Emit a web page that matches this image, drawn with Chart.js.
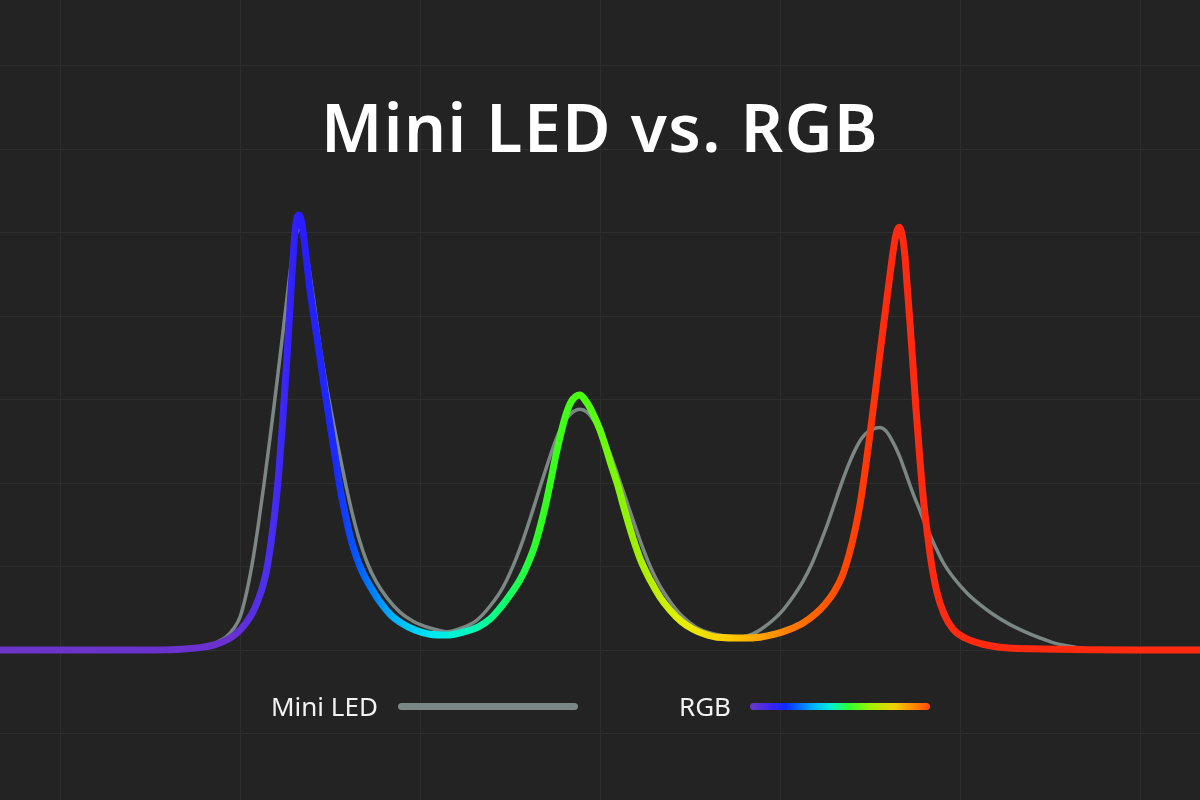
<!DOCTYPE html>
<html lang="en">
<head>
    <meta charset="UTF-8">
    <title>Mini LED vs. RGB</title>
    <script src="https://cdn.jsdelivr.net/npm/chart.js"></script>
    <style>
        body {
            margin: 0;
            background-color: #232323;
        }

        .chart-box {
            position: relative;
            width: 1200px;
            height: 800px;
            overflow: hidden;
        }

        canvas {
            position: absolute;
            left: 0;
            top: 0;
        }

        .chart-title {
            position: absolute;
            left: 0;
            top: 93px;
            width: 1200px;
            text-align: center;
            color: #ffffff;
            font-family: "Noto Sans", sans-serif;
            font-weight: 600;
            font-size: 66px;
            line-height: 66px;
            letter-spacing: 1.5px;
        }

        .legend-label {
            position: absolute;
            top: 693px;
            color: #f2f2f2;
            font-family: "Noto Sans", sans-serif;
            font-size: 26px;
            line-height: 26px;
        }

        .legend-bar {
            position: absolute;
            top: 703px;
            width: 180px;
            height: 7px;
            border-radius: 4px;
        }
    </style>
</head>
<body>
    <div class="chart-box">
        <canvas id="spectrumChart" width="1200" height="800"></canvas>
        <div class="chart-title">Mini LED vs. RGB</div>
        <div class="legend-label" style="left: 271px;">Mini LED</div>
        <div class="legend-bar" id="miniBar" style="left: 398px;"></div>
        <div class="legend-label" style="left: 679px;">RGB</div>
        <div class="legend-bar" id="rgbBar" style="left: 750px;"></div>
    </div>

    <script>
        // wavelength (nm) and relative intensity
        const rgbWavelengths = [380, 430, 446.7, 451.7, 456, 459.3, 462, 464.3, 466.3, 467.7, 469, 470.3, 471.7, 473, 474.3, 475.7, 477, 477.7, 478.3, 479, 479.7, 480.3, 481, 482, 483.3, 485, 486.7, 488.3, 490, 491.7, 493.3, 495, 496.7, 498.7, 501, 503.7, 506.7, 510, 513.3, 518.3, 523.3, 529, 534.3, 539.3, 543.3, 546.7, 550, 553.3, 556, 558.3, 560.3, 562, 563.7, 565.3, 567, 568.7, 570.3, 572, 573.3, 575, 576.7, 578.3, 580, 581.7, 583.3, 585.7, 588.3, 591, 593.7, 596.7, 600, 603.3, 607, 611, 615, 619, 627.7, 633.3, 638.3, 643.3, 647.7, 651.7, 655, 658, 660.7, 663, 665, 666.7, 668.3, 670, 671.7, 673.3, 675, 676.3, 677.3, 678.3, 679, 679.7, 680.3, 681, 681.7, 682.3, 683.3, 684.3, 685.3, 686.7, 688, 689, 690.3, 692.3, 694.7, 697.7, 701.7, 707.7, 713.3, 719, 780];
        const rgbIntensity = [0, 0, 0.6, 1.3, 2.6, 4.3, 6.5, 9.1, 12.5, 15.6, 19.6, 25.6, 33.5, 43.1, 55.6, 70.4, 86.2, 93.9, 99.9, 103.5, 104.2, 103.2, 100.4, 94.4, 86.5, 78.1, 69.9, 62, 54.1, 46.5, 39, 32.8, 27.3, 22.5, 18.4, 14.9, 11.5, 8.6, 6.7, 4.8, 3.8, 3.6, 4.3, 5.5, 7.4, 10.1, 13.2, 16.8, 20.8, 25.1, 30.2, 35.2, 41, 46.7, 52, 56.5, 59.4, 60.8, 61.1, 59.9, 58, 55.6, 52.7, 49.1, 45.3, 40, 33.3, 26.8, 21.3, 16.8, 12.7, 9.6, 6.9, 5, 3.8, 3.1, 2.9, 3.1, 3.8, 5, 6.5, 8.6, 11, 13.9, 17.7, 22.8, 28.7, 35, 42.6, 51.7, 61.3, 70.9, 80.5, 87.9, 93.4, 98.2, 100.4, 101.3, 100.6, 98.2, 93.9, 88.1, 78.6, 68.5, 58, 45, 34.7, 28.7, 21.6, 13.9, 8.6, 5, 2.9, 1.4, 0.7, 0.4, 0];

        const miniWavelengths = [380, 440, 446.7, 451.7, 455.3, 457.7, 460, 462, 464, 466, 468, 470, 472, 474, 475.7, 477, 478, 478.7, 479.3, 480, 480.7, 481.7, 483, 484.7, 486.7, 489, 491.3, 493.3, 495.3, 497.3, 499.7, 502.3, 505.3, 509, 513.3, 517.7, 523.3, 529, 534, 539, 543.3, 547.7, 551, 554.3, 557.3, 560, 562.3, 564.3, 566.7, 569, 571.3, 573.3, 575.7, 578.3, 580.7, 583.3, 586, 589, 591.7, 594.3, 597, 600, 603.7, 607.7, 612, 616.7, 621.7, 626.7, 630.7, 634.3, 637.7, 641, 644.3, 647.7, 650.7, 653.3, 655.7, 658, 660.3, 662.7, 665, 667.3, 669.7, 672, 673.3, 675.3, 677.3, 679.7, 682, 684.3, 686.7, 689, 691.7, 694.3, 698, 702.3, 706.7, 711, 716.7, 722.3, 726.7, 731, 736, 741, 746.7, 780];
        const miniIntensity = [0, 0, 0.7, 1.7, 3.1, 5, 7.9, 13.2, 20.4, 29.5, 39.8, 50.8, 62.3, 74.3, 84.6, 92.2, 97, 99.4, 100.6, 100.8, 100.1, 97.2, 91.5, 83.1, 72.6, 62.5, 53.7, 46.5, 39.5, 33.1, 26.6, 21.1, 16.5, 12.5, 9.1, 6.9, 5.3, 4.4, 5.3, 7.2, 10.5, 15.1, 20.1, 26.3, 32.8, 39, 44.1, 48.4, 52.7, 55.6, 57.2, 57.7, 57, 54.6, 51.5, 47.2, 41.7, 35.4, 29.7, 24.4, 19.6, 15.3, 11.3, 7.9, 5.5, 4.1, 3.4, 3.1, 3.8, 5.3, 7.2, 9.6, 12.7, 16.5, 20.8, 25.4, 29.9, 34.7, 39.5, 44.1, 47.9, 50.8, 52.5, 53.2, 53.3, 52.5, 50.3, 46.7, 42.2, 37.6, 33.3, 29.2, 24.9, 21.1, 17.2, 13.7, 10.9, 8.6, 6.1, 4.2, 2.9, 1.8, 1, 0.4, 0.1, 0];

        const seriesNames = ['RGB', 'Mini LED'];
        const xGridTicks = [400, 460, 520, 580, 640, 700, 760];
        const yGridTicks = [-20, 0, 20, 40, 60, 80, 100, 120, 140];

        const miniColor = '#7b8784';
        const spectrumStops = [
            [0, '#6b35c6'], [0.19, '#6a31d0'], [0.225, '#4a2ef0'], [0.25, '#2a1cff'],
            [0.28, '#1a2aff'], [0.30, '#0060ff'], [0.33, '#00b8ff'], [0.36, '#00e8f0'],
            [0.39, '#00f8c0'], [0.42, '#10ff70'], [0.45, '#30ff20'], [0.49, '#50ff10'],
            [0.53, '#a0f000'], [0.57, '#e8f000'], [0.61, '#ffc800'], [0.66, '#ff7a00'],
            [0.70, '#ff4a00'], [0.74, '#ff2a10'], [1, '#ff2a10']
        ];

        function toPoints(xs, ys) {
            return xs.map((x, i) => ({ x: x, y: ys[i] }));
        }

        function spectrumGradient(context) {
            const area = context.chart.chartArea;
            if (!area) return '#ff2a10';
            const g = context.chart.ctx.createLinearGradient(area.left, 0, area.right, 0);
            spectrumStops.forEach(s => g.addColorStop(s[0], s[1]));
            return g;
        }

        // legend bars
        document.getElementById('miniBar').style.backgroundColor = miniColor;
        document.getElementById('rgbBar').style.background =
            'linear-gradient(to right, #6a3ac8 0%, #3a22f0 12%, #0a2cff 20%, #00b0ff 35%, #00f0d0 45%, #30ff30 55%, #a8f000 68%, #f0d000 80%, #ff8000 92%, #ff4a10 100%)';

        const ctx = document.getElementById('spectrumChart').getContext('2d');
        const spectrumChart = new Chart(ctx, {
            type: 'line',
            data: {
                datasets: [
                    {
                        label: seriesNames[0],
                        data: toPoints(rgbWavelengths, rgbIntensity),
                        borderColor: spectrumGradient,
                        borderWidth: 7,
                        borderCapStyle: 'round',
                        borderJoinStyle: 'round',
                        pointRadius: 0,
                        cubicInterpolationMode: 'monotone',
                        order: 1,
                    },
                    {
                        label: seriesNames[1],
                        data: toPoints(miniWavelengths, miniIntensity),
                        borderColor: miniColor,
                        borderWidth: 3.5,
                        borderCapStyle: 'round',
                        pointRadius: 0,
                        cubicInterpolationMode: 'monotone',
                        order: 2,
                    }
                ],
            },
            options: {
                responsive: false,
                animation: false,
                layout: { padding: 0 },
                plugins: {
                    legend: { display: false },
                    tooltip: { enabled: false },
                },
                scales: {
                    x: {
                        type: 'linear',
                        min: 380,
                        max: 780,
                        afterBuildTicks: axis => { axis.ticks = xGridTicks.map(v => ({ value: v })); },
                        ticks: { display: false },
                        grid: { color: '#2e2e2e', lineWidth: 1, drawTicks: false },
                        border: { display: false },
                    },
                    y: {
                        min: -35.9,
                        max: 155.7,
                        afterBuildTicks: axis => { axis.ticks = yGridTicks.map(v => ({ value: v })); },
                        ticks: { display: false },
                        grid: { color: '#2e2e2e', lineWidth: 1, drawTicks: false },
                        border: { display: false },
                    },
                },
            },
        });
    </script>
</body>
</html>
